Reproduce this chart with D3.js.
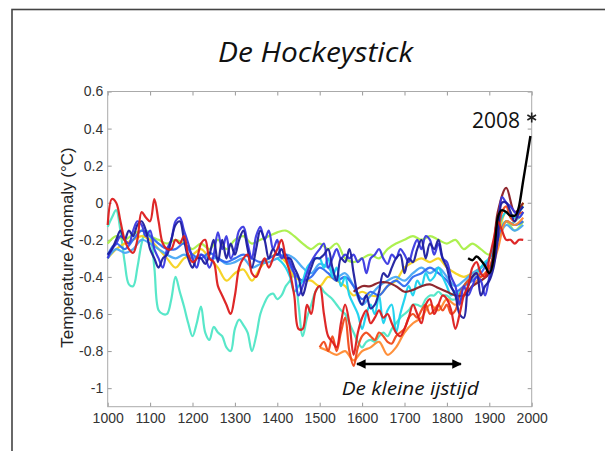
<!DOCTYPE html>
<html lang="nl">
<head>
<meta charset="utf-8">
<title>De Hockeystick</title>
<script src="https://cdn.jsdelivr.net/npm/d3@7"></script>
<style>
  body { margin: 0; background: #fff; }
  svg { display: block; }
</style>
</head>
<body>
<script>
// years on a 10 year grid, 1000 - 1980
var decades = [
  1000,1010,1020,1030,1040,1050,1060,1070,1080,1090,
  1100,1110,1120,1130,1140,1150,1160,1170,1180,1190,
  1200,1210,1220,1230,1240,1250,1260,1270,1280,1290,
  1300,1310,1320,1330,1340,1350,1360,1370,1380,1390,
  1400,1410,1420,1430,1440,1450,1460,1470,1480,1490,
  1500,1510,1520,1530,1540,1550,1560,1570,1580,1590,
  1600,1610,1620,1630,1640,1650,1660,1670,1680,1690,
  1700,1710,1720,1730,1740,1750,1760,1770,1780,1790,
  1800,1810,1820,1830,1840,1850,1860,1870,1880,1890,
  1900,1910,1920,1930,1940,1950,1960,1970,1980];
var twenties = decades.filter(function(y) { return y % 20 === 0; });

// reconstructions (temperature anomaly, degC)
var navy = [
  -0.28,-0.25,-0.2,-0.15,-0.2,-0.15,-0.18,-0.12,-0.1,-0.15,
  -0.25,-0.3,-0.35,-0.3,-0.28,-0.2,-0.12,-0.1,-0.2,-0.3,
  -0.35,-0.3,-0.3,-0.33,-0.28,-0.2,-0.32,-0.2,-0.3,-0.22,
  -0.28,-0.2,-0.15,-0.25,-0.35,-0.25,-0.15,-0.2,-0.3,-0.25,
  -0.28,-0.25,-0.3,-0.3,-0.35,-0.4,-0.5,-0.42,-0.35,-0.3,
  -0.3,-0.28,-0.25,-0.35,-0.42,-0.3,-0.32,-0.25,-0.38,-0.5,
  -0.55,-0.5,-0.57,-0.55,-0.48,-0.38,-0.4,-0.35,-0.3,-0.28,
  -0.38,-0.3,-0.32,-0.25,-0.2,-0.3,-0.22,-0.25,-0.2,-0.3,
  -0.35,-0.45,-0.5,-0.6,-0.62,-0.45,-0.4,-0.38,-0.5,-0.45,
  -0.42,-0.35,-0.2,0.0,0.0,-0.05,-0.1,-0.05,-0.02];
var blue = [
  -0.3,-0.25,-0.22,-0.18,-0.2,-0.22,-0.15,-0.1,-0.12,-0.18,
  -0.15,-0.25,-0.3,-0.35,-0.25,-0.2,-0.1,-0.08,-0.15,-0.22,
  -0.3,-0.35,-0.28,-0.3,-0.35,-0.28,-0.16,-0.25,-0.18,-0.3,
  -0.25,-0.15,-0.13,-0.22,-0.3,-0.18,-0.13,-0.2,-0.15,-0.25,
  -0.2,-0.3,-0.28,-0.32,-0.38,-0.5,-0.45,-0.38,-0.32,-0.28,
  -0.25,-0.22,-0.35,-0.3,-0.25,-0.3,-0.28,-0.3,-0.28,-0.32,
  -0.3,-0.38,-0.3,-0.28,-0.25,-0.3,-0.33,-0.28,-0.3,-0.25,
  -0.28,-0.32,-0.25,-0.2,-0.25,-0.18,-0.2,-0.28,-0.22,-0.3,
  -0.32,-0.4,-0.45,-0.55,-0.45,-0.5,-0.45,-0.4,-0.42,-0.5,
  -0.4,-0.3,-0.15,0.03,0.0,-0.02,-0.05,-0.08,-0.05];
var turquoise = [
  -0.13,-0.08,-0.04,-0.15,-0.32,-0.44,-0.45,-0.35,-0.22,-0.15,
  -0.18,-0.35,-0.58,-0.6,-0.6,-0.52,-0.4,-0.48,-0.56,-0.65,
  -0.72,-0.65,-0.56,-0.7,-0.74,-0.67,-0.7,-0.72,-0.78,-0.8,
  -0.68,-0.63,-0.66,-0.7,-0.8,-0.72,-0.6,-0.54,-0.5,-0.49,
  -0.52,-0.5,-0.45,-0.42,-0.38,-0.55,-0.72,-0.62,-0.55,-0.48,
  -0.45,-0.48,-0.5,-0.52,-0.55,-0.58,-0.6,-0.65,-0.7,-0.75,
  -0.78,-0.75,-0.74,-0.75,-0.72,-0.7,-0.72,-0.68,-0.65,-0.62,
  -0.6,-0.58,-0.55,-0.55,-0.56,-0.52,-0.5,-0.5,-0.48,-0.5,
  -0.5,-0.52,-0.52,-0.48,-0.45,-0.42,-0.4,-0.38,-0.35,-0.33,
  -0.3,-0.25,-0.18,-0.12,-0.1,-0.12,-0.1,-0.08,-0.05];
var red = [
  -0.12,0.02,0.0,-0.1,-0.2,-0.25,-0.27,-0.2,-0.05,-0.08,
  -0.1,0.02,-0.1,-0.22,-0.25,-0.25,-0.2,-0.22,-0.18,-0.28,
  -0.32,-0.3,-0.22,-0.2,-0.3,-0.32,-0.45,-0.5,-0.55,-0.6,
  -0.5,-0.35,-0.3,-0.28,-0.38,-0.4,-0.35,-0.3,-0.35,-0.3,
  -0.25,-0.2,-0.3,-0.38,-0.5,-0.68,-0.68,-0.55,-0.6,-0.48,
  -0.45,-0.6,-0.72,-0.75,-0.78,-0.65,-0.55,-0.65,-0.82,-0.7,
  -0.62,-0.58,-0.65,-0.62,-0.58,-0.62,-0.6,-0.65,-0.7,-0.72,
  -0.68,-0.62,-0.55,-0.6,-0.65,-0.55,-0.52,-0.6,-0.55,-0.5,
  -0.52,-0.58,-0.68,-0.6,-0.5,-0.45,-0.35,-0.32,-0.38,-0.4,
  -0.3,-0.2,-0.1,-0.15,-0.2,-0.2,-0.22,-0.2,-0.2];

// 20 year grid
var royal = [
  -0.28,-0.22,-0.25,-0.2,-0.15,-0.18,-0.22,-0.25,-0.25,-0.22,
  -0.28,-0.3,-0.27,-0.3,-0.32,-0.3,-0.28,-0.3,-0.32,-0.3,
  -0.28,-0.3,-0.38,-0.42,-0.4,-0.35,-0.38,-0.42,-0.4,-0.45,
  -0.52,-0.48,-0.5,-0.45,-0.42,-0.45,-0.4,-0.38,-0.35,-0.38,
  -0.42,-0.48,-0.45,-0.42,-0.38,-0.3,-0.2,-0.1,-0.12,-0.1];
var skyblue = [
  -0.3,-0.25,-0.27,-0.25,-0.2,-0.22,-0.25,-0.28,-0.3,-0.28,
  -0.3,-0.28,-0.3,-0.3,-0.33,-0.32,-0.3,-0.35,-0.33,-0.32,
  -0.3,-0.28,-0.3,-0.35,-0.38,-0.33,-0.35,-0.4,-0.38,-0.45,
  -0.55,-0.5,-0.45,-0.42,-0.4,-0.42,-0.38,-0.35,-0.38,-0.35,
  -0.4,-0.45,-0.42,-0.38,-0.35,-0.3,-0.2,-0.12,-0.15,-0.12];
var lightgreen = [
  -0.22,-0.18,-0.2,-0.17,-0.15,-0.18,-0.2,-0.22,-0.2,-0.22,
  -0.25,-0.22,-0.25,-0.2,-0.25,-0.2,-0.18,-0.22,-0.2,-0.18,
  -0.16,-0.15,-0.18,-0.22,-0.25,-0.22,-0.25,-0.22,-0.3,-0.32,
  -0.3,-0.28,-0.3,-0.25,-0.22,-0.2,-0.18,-0.2,-0.18,-0.2,
  -0.22,-0.2,-0.25,-0.22,-0.25,-0.28,-0.2,-0.1,-0.15,-0.1];
var yellow = [
  -0.3,-0.25,-0.22,-0.2,-0.18,-0.2,-0.25,-0.3,-0.35,-0.3,
  -0.28,-0.25,-0.3,-0.35,-0.42,-0.38,-0.36,-0.42,-0.35,-0.3,
  -0.28,-0.32,-0.4,-0.42,-0.42,-0.45,-0.4,-0.42,-0.45,-0.5,
  -0.48,-0.5,-0.5,-0.45,-0.42,-0.35,-0.32,-0.3,-0.32,-0.3,
  -0.35,-0.38,-0.4,-0.38,-0.35,-0.3,-0.18,-0.05,-0.08,0.0];

// shorter reconstructions
var cyan = [   // 1400 - 1980, 10 yr
  -0.3,-0.32,-0.35,-0.4,-0.48,-0.45,-0.42,-0.35,-0.32,-0.3,
  -0.3,-0.35,-0.3,-0.4,-0.35,-0.45,-0.4,-0.5,-0.55,-0.6,
  -0.68,-0.6,-0.55,-0.6,-0.5,-0.65,-0.58,-0.55,-0.7,-0.6,
  -0.52,-0.45,-0.5,-0.42,-0.45,-0.38,-0.42,-0.4,-0.35,-0.4,
  -0.45,-0.5,-0.48,-0.5,-0.45,-0.42,-0.4,-0.38,-0.35,-0.32,
  -0.3,-0.22,-0.15,-0.08,-0.05,-0.06,-0.08,-0.05,-0.02];
var redorange = [   // 1500 - 1980, 10 yr
  -0.78,-0.75,-0.8,-0.72,-0.8,-0.7,-0.62,-0.8,-0.88,-0.78,
  -0.72,-0.7,-0.72,-0.74,-0.7,-0.72,-0.75,-0.76,-0.72,-0.7,
  -0.68,-0.62,-0.6,-0.62,-0.58,-0.55,-0.6,-0.58,-0.55,-0.58,
  -0.55,-0.6,-0.58,-0.5,-0.45,-0.42,-0.4,-0.38,-0.4,-0.38,
  -0.35,-0.28,-0.18,-0.05,-0.02,-0.08,-0.1,-0.06,-0.05];
var orange = [   // 1500 - 1980, 20 yr
  -0.78,-0.8,-0.82,-0.8,-0.85,-0.8,-0.78,-0.75,-0.82,-0.78,
  -0.7,-0.65,-0.62,-0.55,-0.58,-0.52,-0.55,-0.5,-0.45,-0.4,
  -0.38,-0.25,-0.1,-0.12,-0.08];
var maroon = [   // 1580 - 1980, 20 yr
  -0.48,-0.45,-0.45,-0.43,-0.43,-0.45,-0.48,-0.47,-0.45,-0.44,
  -0.46,-0.48,-0.5,-0.5,-0.45,-0.42,-0.38,-0.05,0.08,-0.05,0.0];

// instrumental record
var instrYears = [1850,1860,1870,1880,1890,1900,1910,1920,1930,1940,1950,1960,1970,1980,1990,1997];
var instrTemps = [-0.3,-0.31,-0.29,-0.31,-0.34,-0.38,-0.3,-0.08,-0.04,-0.05,-0.07,-0.07,-0.02,0.12,0.26,0.36];

var xTicks = [1000,1100,1200,1300,1400,1500,1600,1700,1800,1900,2000];
var yTicks = [0.6,0.4,0.2,0,-0.2,-0.4,-0.6,-0.8,-1];
var yTickLabels = ["0.6","0.4","0.2","0","-0.2","-0.4","-0.6","-0.8","-1"];

var marker2008 = {year: 2000, temp: 0.46};
var iceAge = {from: 1588, to: 1833, temp: -0.87};

var series = [
  {years: decades, values: turquoise, color: "#4fe6c6"},
  {years: twenties, values: lightgreen, color: "#a9ef48"},
  {years: twenties, values: yellow, color: "#f6d21e"},
  {years: twenties, values: skyblue, color: "#48a8f4"},
  {years: twenties, values: royal, color: "#2f6af0"},
  {years: decades.slice(40), values: cyan, color: "#1ad2ee"},
  {years: twenties.slice(25), values: orange, color: "#ff8a30"},
  {years: decades.slice(50), values: redorange, color: "#f04a1a"},
  {years: twenties.slice(29), values: maroon, color: "#8a1c24"},
  {years: decades, values: blue, color: "#3a38e0"},
  {years: decades, values: navy, color: "#1e1e9e"},
  {years: decades, values: red, color: "#dc1c1c"}
];

var w = 605, h = 451;
var plotLeft = 107.7, plotRight = 531.7, plotTop = 91.5, plotBottom = 406.7;

var svg = d3.select("body").append("svg")
  .attr("width", w)
  .attr("height", h);

// slide frame
svg.append("rect")
  .attr("x", 12).attr("y", 9.5)
  .attr("width", 640).attr("height", 480)
  .attr("fill", "none")
  .attr("stroke", "#444")
  .attr("stroke-width", 1.6);

var x = d3.scaleLinear().domain([1000, 2000]).range([plotLeft, plotRight]);
var y = d3.scaleLinear().domain([-1.1, 0.6]).range([plotBottom, plotTop]);

// axes, ticks pointing inwards on all sides
function styleAxis(g) {
  g.select(".domain").remove();
  g.selectAll(".tick line").attr("stroke", "#999");
  g.selectAll("text")
    .attr("fill", "#333")
    .attr("font-family", "'Liberation Sans', Arial, sans-serif")
    .attr("font-size", "14px");
}

svg.append("g")
  .attr("transform", "translate(0," + plotBottom + ")")
  .call(d3.axisBottom(x).tickValues(xTicks).tickFormat(d3.format("d"))
    .tickSizeInner(-4).tickSizeOuter(0).tickPadding(6.5))
  .call(styleAxis);
svg.append("g")
  .attr("transform", "translate(0," + plotTop + ")")
  .call(d3.axisTop(x).tickValues(xTicks).tickFormat("").tickSizeInner(-4).tickSizeOuter(0))
  .call(styleAxis);
svg.append("g")
  .attr("transform", "translate(" + plotLeft + ",0)")
  .call(d3.axisLeft(y).tickValues(yTicks)
    .tickFormat(function(d, i) { return yTickLabels[i]; })
    .tickSizeInner(-4).tickSizeOuter(0).tickPadding(4.5))
  .call(styleAxis);
svg.append("g")
  .attr("transform", "translate(" + plotRight + ",0)")
  .call(d3.axisRight(y).tickValues(yTicks).tickFormat("").tickSizeInner(-4).tickSizeOuter(0))
  .call(styleAxis);

svg.append("rect")
  .attr("x", plotLeft).attr("y", plotTop)
  .attr("width", plotRight - plotLeft).attr("height", plotBottom - plotTop)
  .attr("fill", "none")
  .attr("stroke", "#aaa")
  .attr("stroke-width", 1);

// reconstructions
var line = d3.line()
  .x(function(d) { return x(d[0]); })
  .y(function(d) { return y(d[1]); })
  .curve(d3.curveCatmullRom.alpha(0.5));

svg.append("g").selectAll("path")
  .data(series)
  .enter()
  .append("path")
  .attr("d", function(s) { return line(s.years.map(function(yr, i) { return [yr, s.values[i]]; })); })
  .attr("fill", "none")
  .attr("stroke", function(s) { return s.color; })
  .attr("stroke-width", 2.2)
  .attr("stroke-linejoin", "round")
  .attr("opacity", 0.95);

svg.append("path")
  .attr("d", d3.line()
    .x(function(d) { return x(d[0]); })
    .y(function(d) { return y(d[1]); })
    .curve(d3.curveMonotoneX)(instrYears.map(function(yr, i) { return [yr, instrTemps[i]]; })))
  .attr("fill", "none")
  .attr("stroke", "#000")
  .attr("stroke-width", 2.4);

// title
svg.append("text")
  .attr("x", 315.5).attr("y", 62)
  .attr("text-anchor", "middle")
  .attr("font-family", "'Open Sans', sans-serif")
  .attr("font-style", "italic")
  .attr("font-size", "28px")
  .attr("textLength", 195)
  .attr("lengthAdjust", "spacingAndGlyphs")
  .attr("fill", "#111")
  .text("De Hockeystick");

// y axis title
svg.append("text")
  .attr("transform", "translate(73,247.5) rotate(-90)")
  .attr("text-anchor", "middle")
  .attr("font-family", "'Liberation Sans', Arial, sans-serif")
  .attr("font-size", "17px")
  .attr("fill", "#222")
  .text("Temperature Anomaly (\u00B0C)");

// 2008 marker
svg.append("text")
  .attr("x", 520).attr("y", 128)
  .attr("text-anchor", "end")
  .attr("font-family", "'Open Sans', sans-serif")
  .attr("font-size", "21px")
  .attr("fill", "#111")
  .text("2008");
svg.append("path")
  .attr("transform", "translate(" + x(marker2008.year) + "," + y(marker2008.temp) + ")")
  .attr("d", d3.symbol().type(d3.symbolAsterisk).size(70)())
  .attr("stroke", "#222")
  .attr("stroke-width", 1.6)
  .attr("fill", "none");

// little ice age arrow
var defs = svg.append("defs");
["start", "end"].forEach(function(k) {
  defs.append("marker")
    .attr("id", "arrow-" + k)
    .attr("viewBox", "0 0 10 10")
    .attr("refX", 9).attr("refY", 5)
    .attr("markerWidth", 4).attr("markerHeight", 4)
    .attr("markerUnits", "strokeWidth")
    .attr("orient", k === "end" ? "auto" : "auto-start-reverse")
    .append("path")
    .attr("d", "M0,0 L10,5 L0,10 z")
    .attr("fill", "#000");
});
svg.append("line")
  .attr("x1", x(iceAge.from)).attr("x2", x(iceAge.to))
  .attr("y1", y(iceAge.temp)).attr("y2", y(iceAge.temp))
  .attr("stroke", "#000")
  .attr("stroke-width", 2.4)
  .attr("marker-start", "url(#arrow-start)")
  .attr("marker-end", "url(#arrow-end)");

svg.append("text")
  .attr("x", 341.7).attr("y", 395)
  .attr("font-family", "'Open Sans', sans-serif")
  .attr("font-style", "italic")
  .attr("font-size", "18px")
  .attr("textLength", 137)
  .attr("lengthAdjust", "spacingAndGlyphs")
  .attr("fill", "#111")
  .text("De kleine ijstijd");
</script>
</body>
</html>
